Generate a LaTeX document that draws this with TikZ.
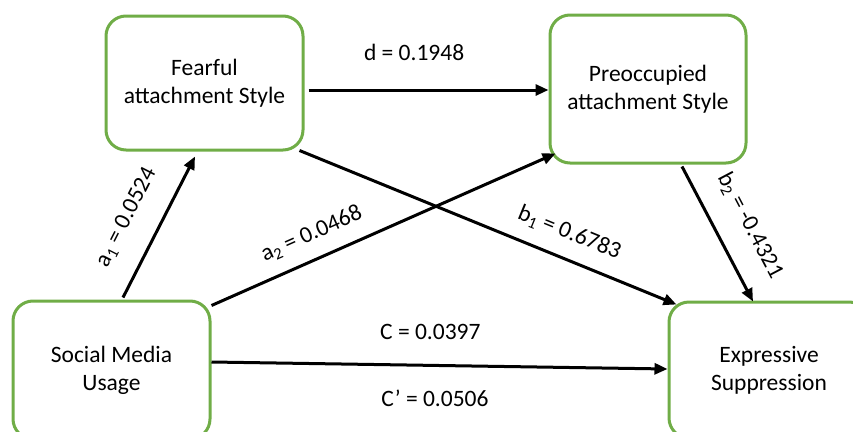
\documentclass[tikz,border=0pt]{standalone}
\usepackage{fontspec}
\setmainfont{Carlito}
\usetikzlibrary{arrows.meta}
\definecolor{boxgreen}{HTML}{70AD47}

\begin{document}
\begin{tikzpicture}[x=1pt,y=1pt,font=\fontsize{23.5}{28}\selectfont]
\tikzstyle{box}=[draw=boxgreen, line width=3pt, rounded corners=20pt, align=center, minimum width=197pt]
\tikzstyle{link}=[line width=3pt, -{Triangle[length=13pt,width=11pt]}]
\tikzstyle{coef}=[inner sep=0pt, text height=15pt, text depth=4pt]
\useasboundingbox (0,0) rectangle (853,-431);
\node[box, minimum height=134pt] (fear) at (204.5,-83) {Fearful\\attachment Style};
\node[box, minimum width=196pt, minimum height=148pt] (pre) at (648,-89) {Preoccupied\\attachment Style};
\node[box, minimum height=138pt] (soc) at (111.5,-370) {Social Media\\Usage};
\node[box, minimum width=200pt, minimum height=136pt] (exp) at (769,-370) {Expressive\\Suppression};
% paths a, d, b, c
\draw[link] ([xshift=11.5pt,yshift=2pt]soc.north) -- node[coef, sloped, above=22pt, pos=0.46] (la1) {a\textsubscript{1} = 0.0524} ([xshift=-9.5pt,yshift=-5pt]fear.south);
\draw[link] ([yshift=-6pt]soc.north east) -- node[coef, sloped, above=13pt, pos=0.32] (la2) {a\textsubscript{2} = 0.0468} ([xshift=7pt,yshift=11pt]pre.south west);
\draw[link] ([xshift=4pt,yshift=-7pt]fear.east) -- node[coef, above=24pt, pos=0.44] (ld) {d = 0.1948} ([yshift=-1pt]pre.west);
\draw[link] ([xshift=-5pt,yshift=1pt]fear.south east) -- node[coef, sloped, above=14pt, pos=0.69] (lb1) {b\textsubscript{1} = 0.6783} ([xshift=9pt,yshift=-4pt]exp.north west);
\draw[link] ([xshift=34pt,yshift=-2pt]pre.south) -- node[coef, sloped, above=21pt, pos=0.55] (lb2) {b\textsubscript{2} = -0.4321} ([xshift=-16pt,yshift=-1pt]exp.north);
\draw[link] ([yshift=8pt]soc.east) -- node[coef, above=20pt, pos=0.48] (lc) {C = 0.0397} node[coef, below=25pt, pos=0.49] (lcp) {C’ = 0.0506} ([yshift=1pt]exp.west);
\end{tikzpicture}
\end{document}
